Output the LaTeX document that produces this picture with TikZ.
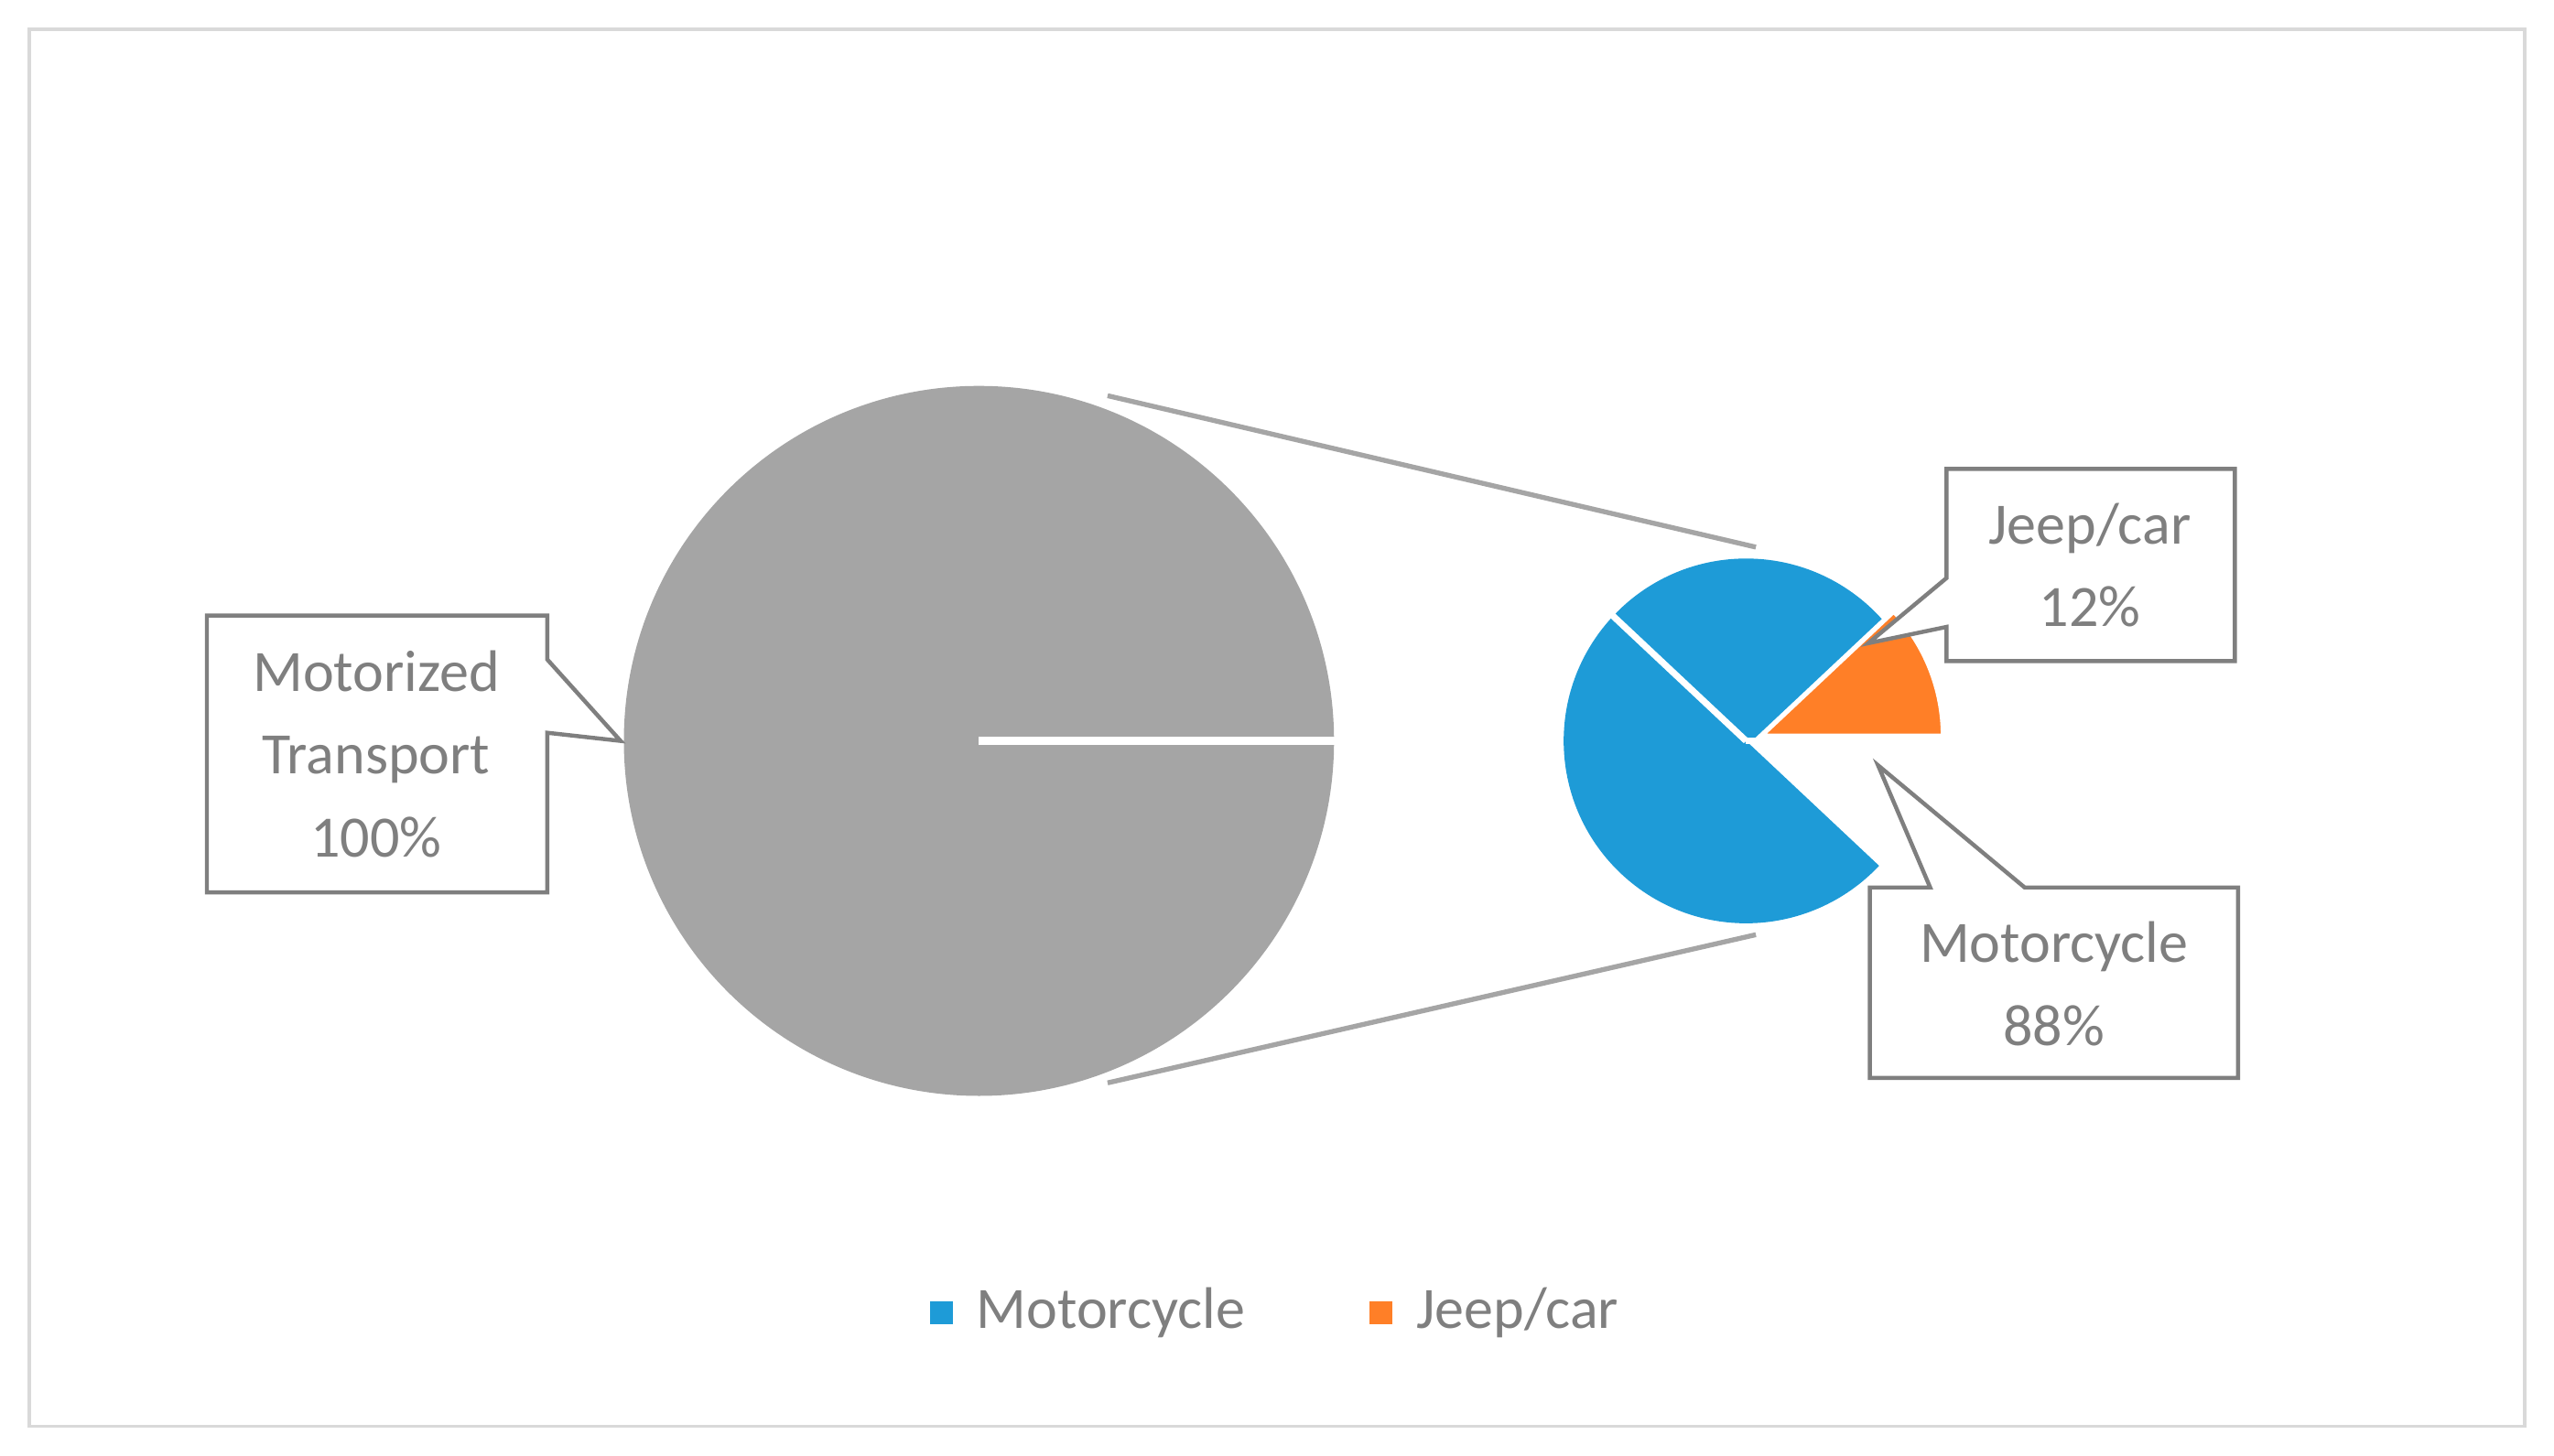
\documentclass[tikz,border=0pt]{standalone}
\usepackage{fontspec}
\setmainfont{Carlito}
\definecolor{pgray}{HTML}{A5A5A5}
\definecolor{tgray}{HTML}{7F7F7F}
\definecolor{mblue}{HTML}{1E9BD7}
\definecolor{jorange}{HTML}{FF7F27}
\definecolor{frame}{HTML}{D9D9D9}
\begin{document}
\begin{tikzpicture}[x=1pt,y=-1pt,
  lbl/.style={text=tgray,font=\fontsize{36}{51}\selectfont,align=center},
  call/.style={draw=tgray,line width=2.5pt,fill=white,line join=miter}]
\useasboundingbox (0,0) rectangle (1568,893.6);
\fill[white] (0,0) rectangle (1568,893.6);
\draw[frame,line width=2pt] (18,18) rectangle (1550,876);
% connectors
\coordinate (a1) at (680,243); \coordinate (a2) at (1078,336);
\coordinate (b1) at (680,665); \coordinate (b2) at (1078,574);
\draw[pgray,line width=3pt] (a1) -- (a2);
\draw[pgray,line width=3pt] (b1) -- (b2);
% big pie
\fill[pgray] (601,455) circle[radius=218];
\draw[white,line width=5pt] (601,455) -- (821,455);
% small pie
\fill[mblue] (1072,455) -- (1184,455) arc[start angle=0,end angle=-316.8,radius=112] -- cycle;
\draw[white,line width=4pt] (1072,455) -- (1186,455);
\draw[white,line width=4pt] (1072,455) -- ++(43.2:-114);
\begin{scope}[shift={(9,-3)}]
\fill[jorange,draw=white,line width=3pt] (1072,455) -- (1184,455) arc[start angle=0,end angle=-43.2,radius=112] -- cycle;
\end{scope}
% callouts
\draw[call] (127,378) -- (336,378) -- (336,405) -- (381,455) -- (336,450) -- (336,548) -- (127,548) -- cycle;
\node[lbl] (mt) at (231,463) {Motorized\\Transport\\100\%};
\draw[call] (1195,288) -- (1372,288) -- (1372,406) -- (1195,406) -- (1195,385) -- (1147,395) -- (1195,355) -- cycle;
\node[lbl] (jc) at (1283,347) {Jeep/car\\12\%};
\draw[call] (1148,545) -- (1185,545) -- (1153,470) -- (1243,545) -- (1374,545) -- (1374,662) -- (1148,662) -- cycle;
\node[lbl] (mc) at (1261,604) {Motorcycle\\88\%};
% legend
\fill[mblue] (571,799) rectangle (585,813);
\node[lbl,anchor=west] (lm) at (596,806) {Motorcycle};
\fill[jorange] (841,799) rectangle (855,813);
\node[lbl,anchor=west] (lj) at (866,806) {Jeep/car};
\end{tikzpicture}
\end{document}
